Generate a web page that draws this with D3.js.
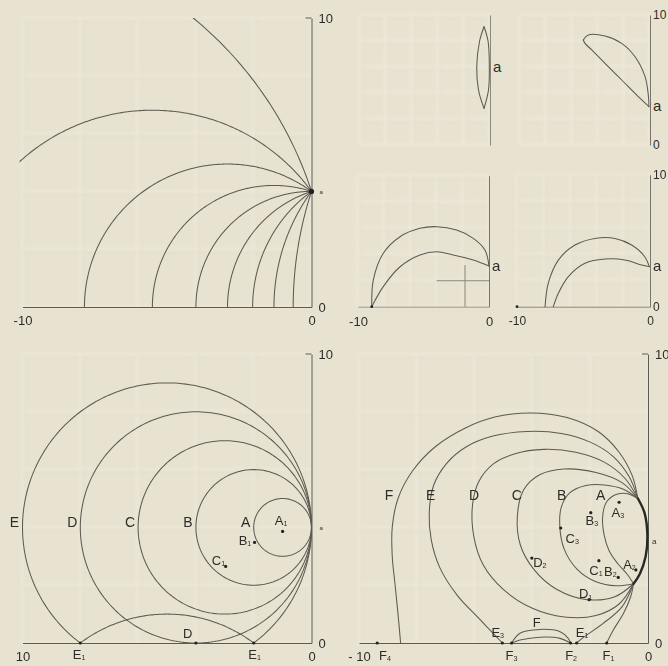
<!DOCTYPE html>
<html>
<head>
<meta charset="utf-8">
<script src="https://cdn.jsdelivr.net/npm/d3@7"></script>
<style>
  html, body { margin: 0; padding: 0; background: #e8e3d1; }
  svg { display: block; }
  text { font-family: "Liberation Sans", "DejaVu Sans", sans-serif; fill: #2e2c28; }
</style>
</head>
<body>
<svg id="fig" width="668" height="666"></svg>
<script>
// ---------------- data ----------------
// Panel I: circles through a = (0,4) with centres on the x axis
const fanPoint = [0, 4];
const fanCenters = [-12.31, -5.51, -2.91, -1.30, 0, 1.30, 2.91, 5.51, 12.31];

// Panel III: circles tangent to the y axis at a, centres (-r, 4)
const tangentRadii = [1, 2, 3, 4, 5];
const tangentNames = ["A", "B", "C", "D", "E"];
const mirroredRadius = 5;           // part of circle E below the axis, folded up
const panel3Points = [
  { name: "A", sub: "1", x: -1.00, y: 3.86, lx: -1.05, ly: 4.25 },
  { name: "B", sub: "1", x: -1.97, y: 3.48, lx: -2.30, ly: 3.56 },
  { name: "C", sub: "1", x: -2.97, y: 2.65, lx: -3.22, ly: 2.86 },
  { name: "D", sub: "",  x: -4.00, y: 0.00, lx: -4.28, ly: 0.33 },
  { name: "E", sub: "1", x: -8.00, y: 0.00, lx: -8.04, ly: -0.40 },
  { name: "E", sub: "1", x: -2.00, y: 0.00, lx: -1.97, ly: -0.40 }
];

// Panel IV: closed curves A-D and open curves E, F through the same pair of points
const loopRightSide = [[-0.35, 5.0], [-0.12, 4.5], [-0.02, 3.7], [-0.08, 3.0], [-0.28, 2.4], [-0.5, 2.05]];
const loopA = [[-0.35, 5.0], [-0.75, 5.17], [-1.15, 5.12], [-1.45, 4.85], [-1.57, 4.35], [-1.52, 3.75], [-1.35, 3.2], [-1.05, 2.75], [-0.72, 2.38], [-0.5, 2.05]];
const loopB = [[-0.35, 5.0], [-0.85, 5.32], [-1.5, 5.47], [-2.15, 5.45], [-2.7, 5.2], [-3.0, 4.7], [-3.05, 4.0], [-2.9, 3.25], [-2.45, 2.55], [-1.8, 2.12], [-1.1, 1.98], [-0.5, 2.05]];
const loopC = [[-0.35, 5.0], [-0.9, 5.55], [-1.8, 5.9], [-2.9, 6.02], [-3.75, 5.82], [-4.3, 5.3], [-4.52, 4.4], [-4.42, 3.4], [-3.95, 2.55], [-3.15, 1.85], [-2.1, 1.5], [-1.15, 1.6], [-0.5, 2.05]];
const loopD = [[-0.35, 5.0], [-0.8, 5.7], [-1.5, 6.25], [-2.5, 6.6], [-3.6, 6.7], [-4.6, 6.55], [-5.35, 6.2], [-5.85, 5.6], [-6.07, 4.8], [-6.03, 3.7], [-5.7, 2.7], [-5.0, 1.85], [-4.0, 1.2], [-2.9, 0.9], [-1.8, 0.95], [-1.0, 1.35], [-0.5, 2.05]];
const curveE = [[-0.35, 5.0], [-0.65, 5.75], [-1.2, 6.45], [-2.0, 6.95], [-3.0, 7.25], [-4.18, 7.32], [-5.4, 7.15], [-6.3, 6.78], [-6.98, 6.2], [-7.42, 5.45], [-7.57, 4.5], [-7.5, 3.57], [-7.2, 2.6], [-6.6, 1.65], [-5.85, 0.85], [-5.04, 0]];
const curveF = [[-0.35, 5.0], [-0.55, 5.8], [-1.0, 6.6], [-1.7, 7.3], [-2.8, 7.8], [-4.06, 7.96], [-5.3, 7.82], [-6.3, 7.45], [-7.35, 6.8], [-8.15, 5.95], [-8.65, 5.0], [-8.85, 4.0], [-8.85, 3.0], [-8.75, 2.0], [-8.65, 1.0], [-8.56, 0]];
const toE1 = [[-0.5, 2.05], [-0.9, 1.25], [-1.55, 0.68], [-2.2, 0.22], [-2.47, 0]];
const toF1 = [[-0.5, 2.05], [-0.6, 1.6], [-0.85, 1.02], [-1.2, 0.45], [-1.43, 0]];
const arcFUpper = [[-4.72, 0], [-4.43, 0.34], [-3.74, 0.47], [-3.04, 0.39], [-2.76, 0.16], [-2.68, 0]];
const arcFLower = [[-4.72, 0], [-4.43, 0.1], [-3.74, 0.2], [-3.04, 0.16], [-2.68, 0]];
const loopNames = ["F", "E", "D", "C", "B", "A"];
const loopNameX = [-8.96, -7.52, -6.02, -4.54, -2.99, -1.64];
const loopNameY = 5.11;
const panel4Points = [
  { name: "A", sub: "3", x: -1.00, y: 4.87, lx: -1.04, ly: 4.53 },
  { name: "B", sub: "3", x: -1.98, y: 4.51, lx: -1.94, ly: 4.24 },
  { name: "C", sub: "3", x: -3.02, y: 3.98, lx: -2.62, ly: 3.62 },
  { name: "D", sub: "2", x: -4.02, y: 2.94, lx: -3.74, ly: 2.80 },
  { name: "C", sub: "1", x: -1.70, y: 2.85, lx: -1.80, ly: 2.50 },
  { name: "B", sub: "2", x: -1.03, y: 2.27, lx: -1.30, ly: 2.47 },
  { name: "A", sub: "2", x: -0.42, y: 2.53, lx: -0.64, ly: 2.72 },
  { name: "D", sub: "1", x: -2.04, y: 1.50, lx: -2.16, ly: 1.70 },
  { name: "E", sub: "3", x: -5.04, y: 0, lx: -5.20, ly: 0.36 },
  { name: "F", sub: "3", x: -4.72, y: 0, lx: -4.72, ly: -0.44 },
  { name: "F", sub: "2", x: -2.68, y: 0, lx: -2.66, ly: -0.44 },
  { name: "E", sub: "1", x: -2.47, y: 0, lx: -2.28, ly: 0.38 },
  { name: "F", sub: "1", x: -1.43, y: 0, lx: -1.37, ly: -0.42 },
  { name: "F", sub: "4", x: -9.37, y: 0, lx: -9.10, ly: -0.42 }
];
const arcFName = { name: "F", x: -3.85, y: 0.72 };

// Four small panels
const lensLeft = [[-0.46, 9.1], [-0.8, 8.0], [-1.02, 6.0], [-0.88, 4.2], [-0.46, 2.82]];
const lensRight = [[-0.46, 9.1], [-0.15, 8.0], [-0.05, 6.0], [-0.12, 4.2], [-0.46, 2.82]];
const lensA = 6.0;
const dropUpper = [[-0.08, 2.95], [-0.13, 3.85], [-0.38, 5.26], [-1.15, 6.79], [-2.18, 7.82], [-3.46, 8.38], [-4.75, 8.46], [-5.13, 8.08]];
const dropLower = [[-0.08, 2.95], [-0.9, 3.72], [-2.18, 5.0], [-3.46, 6.28], [-4.48, 7.31], [-5.0, 7.82], [-5.13, 8.08]];
const dropA = 2.95;
const hornUpper1 = [[-8.95, 0], [-8.83, 2.04], [-8.07, 4.08], [-6.79, 5.34], [-5.27, 5.98], [-3.99, 6.11], [-2.47, 5.85], [-1.2, 5.22], [-0.31, 4.33], [0, 3.1]];
const hornLower1 = [[-8.95, 0], [-8.07, 1.53], [-6.79, 3.05], [-5.27, 3.95], [-3.99, 4.20], [-2.73, 3.95], [-1.2, 3.56], [0, 3.1]];
const hornCross = { vx: -1.83, vTop: 3.18, hy: 1.98, hLeft: -4.0 };
const hornUpper2 = [[-7.89, 0], [-7.65, 1.77], [-6.89, 3.53], [-5.64, 4.67], [-4.14, 5.17], [-2.63, 5.17], [-1.38, 4.67], [-0.38, 3.77], [-0.05, 3.03]];
const hornLower2 = [[-7.27, 0], [-6.89, 1.02], [-6.14, 2.28], [-4.89, 3.29], [-3.38, 3.61], [-1.88, 3.54], [-0.62, 3.16], [-0.05, 3.03]];
const hornA = 3.05;

const gridX = [-10, -8, -6, -4, -2, 0];
const gridY = [0, 2, 4, 6, 8, 10];

// ---------------- drawing ----------------
const svg = d3.select("#fig");
const INK = "#5d5a52";

const defs = svg.append("defs");
defs.append("filter").attr("id", "soft").append("feGaussianBlur").attr("stdDeviation", 1.6);

function panel(px0, px1, py0, py1) {
  const x = d3.scaleLinear().domain([-10, 0]).range([px0, px1]);
  const y = d3.scaleLinear().domain([0, 10]).range([py0, py1]);
  return { x, y, g: svg.append("g") };
}

const P1 = panel(22.5, 311.5, 307, 18);
const P3 = panel(22.5, 311.5, 643, 354);
const P4 = panel(359, 648, 643, 354);
const S1 = panel(360, 490, 145, 15);
const S2 = panel(520, 650, 145, 15);
const S3 = panel(358, 489, 306.7, 175.7);
const S4 = panel(517, 650, 306.7, 174.7);

// faint ruling of the paper
function paper(P) {
  const g = P.g.append("g").attr("filter", "url(#soft)");
  g.selectAll("line.v").data(gridX).join("line")
    .attr("x1", d => P.x(d)).attr("x2", d => P.x(d))
    .attr("y1", P.y(10)).attr("y2", P.y(0))
    .attr("stroke", "#f1ecdd").attr("stroke-width", 3).attr("opacity", 0.55);
  g.selectAll("line.h").data(gridY).join("line")
    .attr("y1", d => P.y(d)).attr("y2", d => P.y(d))
    .attr("x1", P.x(-10)).attr("x2", P.x(0))
    .attr("stroke", "#f1ecdd").attr("stroke-width", 3).attr("opacity", 0.55);
  g.selectAll("line.vd").data(gridX).join("line")
    .attr("x1", d => P.x(d) + 2.5).attr("x2", d => P.x(d) + 2.5)
    .attr("y1", P.y(10)).attr("y2", P.y(0))
    .attr("stroke", "#d6d0bc").attr("stroke-width", 1.2).attr("opacity", 0.35);
  g.selectAll("line.hd").data(gridY).join("line")
    .attr("y1", d => P.y(d) + 2.5).attr("y2", d => P.y(d) + 2.5)
    .attr("x1", P.x(-10)).attr("x2", P.x(0))
    .attr("stroke", "#d6d0bc").attr("stroke-width", 1.2).attr("opacity", 0.35);
}
[P1, P3, P4, S1, S2, S3, S4].forEach(paper);

function clipFor(P, id) {
  defs.append("clipPath").attr("id", id).append("rect")
    .attr("x", P.x(-10) - 3).attr("y", P.y(10))
    .attr("width", P.x(0) - P.x(-10) + 6).attr("height", P.y(0) - P.y(10));
  return "url(#" + id + ")";
}

// axes built from d3 axis generators (bare lines with end labels)
function axes(P, opt) {
  const fs = opt.fs || 13;
  if (opt.bottom) {
    const ax = d3.axisBottom(P.x).tickValues([-10, 0]).tickSize(0).tickSizeOuter(0)
      .tickPadding(opt.padB || 9).tickFormat((d, i) => opt.bottom[i]);
    const g = P.g.append("g").attr("transform", `translate(0,${P.y(0)})`).call(ax);
    g.select(".domain").attr("stroke", opt.bottomColor || INK).attr("stroke-width", 1);
    g.selectAll("text").style("font-size", fs + "px").style("font-family", "Liberation Sans, sans-serif").attr("fill", "#2e2c28");
  }
  if (opt.right) {
    const ay = d3.axisRight(P.y).tickValues([0, 10]).tickSize(0).tickSizeOuter(0)
      .tickPadding(opt.padR || 7).tickFormat((d, i) => opt.right[i]);
    const g = P.g.append("g").attr("transform", `translate(${P.x(0)},0)`).call(ay);
    g.select(".domain").attr("stroke", opt.rightColor || INK).attr("stroke-width", 1);
    g.selectAll("text").style("font-size", fs + "px").style("font-family", "Liberation Sans, sans-serif").attr("fill", "#2e2c28");
  }
  if (opt.topTick) {
    P.g.append("line").attr("x1", P.x(0) - 6).attr("x2", P.x(0))
      .attr("y1", P.y(10)).attr("y2", P.y(10)).attr("stroke", INK);
  }
}

function label(g, x, y, name, sub, size) {
  const t = g.append("text").attr("x", x).attr("y", y)
    .attr("text-anchor", "middle").attr("dominant-baseline", "central")
    .style("font-size", size + "px").text(name);
  if (sub) t.append("tspan").attr("dy", size * 0.28).style("font-size", (size * 0.55) + "px").text(sub);
  return t;
}

function dot(P, x, y, r) {
  P.g.append("circle").attr("cx", P.x(x)).attr("cy", P.y(y)).attr("r", r || 1.6).attr("fill", "#222");
}

function circlePath(P, cx, cy, r, a0, a1) {
  const n = 240;
  const pts = d3.range(n + 1).map(i => {
    const t = a0 + (a1 - a0) * i / n;
    return [P.x(cx + r * Math.cos(t)), P.y(cy + r * Math.sin(t))];
  });
  return d3.line()(pts);
}

const smooth = P => d3.line().x(d => P.x(d[0])).y(d => P.y(d[1])).curve(d3.curveCatmullRom.alpha(0.5));

function stroke(sel, w) {
  return sel.attr("fill", "none").attr("stroke", INK).attr("stroke-width", w || 1.05)
    .attr("stroke-linejoin", "round").attr("stroke-linecap", "round");
}

// ---- Panel I ----
{
  const P = P1;
  axes(P, { bottom: ["-10", "0"], right: ["0", "10"], topTick: true });
  const clip = clipFor(P, "c1");
  const g = P.g.append("g").attr("clip-path", clip);
  fanCenters.forEach(c => {
    const r = Math.hypot(c - fanPoint[0], fanPoint[1]);
    const a0 = Math.atan2(fanPoint[1], fanPoint[0] - c);
    stroke(g.append("path").attr("d", circlePath(P, c, 0, r, a0, Math.PI)));
  });
  dot(P, fanPoint[0], fanPoint[1], 2.6);
  P.g.append("text").attr("x", P.x(0) + 8).attr("y", P.y(fanPoint[1]) + 3)
    .style("font-size", "6px").text("a");
}

// ---- Panel III ----
{
  const P = P3;
  axes(P, { bottom: ["10", "0"], right: ["0", "10"], topTick: true });
  const clip = clipFor(P, "c3");
  const g = P.g.append("g").attr("clip-path", clip);
  tangentRadii.forEach(r => {
    stroke(g.append("path").attr("d", circlePath(P, -r, 4, r, 0, 2 * Math.PI)));
  });
  stroke(g.append("path").attr("d", circlePath(P, -mirroredRadius, -4, mirroredRadius, 0, Math.PI)));
  tangentRadii.forEach((r, i) => label(P.g, P.x(-2 * r) - 8, P.y(4.2), tangentNames[i], "", 14));
  panel3Points.forEach(p => {
    dot(P, p.x, p.y);
    label(P.g, P.x(p.lx), P.y(p.ly), p.name, p.sub, 13);
  });
  P.g.append("text").attr("x", P.x(0) + 8).attr("y", P.y(4) + 3).style("font-size", "6px").text("a");
}

// ---- Panel IV ----
{
  const P = P4;
  axes(P, { bottom: ["- 10", "0"], right: ["0", "10"], topTick: true });
  const line = smooth(P);
  [loopA, loopB, loopC, loopD, curveE, curveF, toE1, toF1, arcFUpper, arcFLower]
    .forEach(d => stroke(P.g.append("path").attr("d", line(d))));
  stroke(P.g.append("path").attr("d", line(loopRightSide)), 2.4).attr("stroke", "#2a2824");
  loopNames.forEach((n, i) => label(P.g, P.x(loopNameX[i]), P.y(loopNameY), n, "", 14));
  panel4Points.forEach(p => {
    dot(P, p.x, p.y);
    label(P.g, P.x(p.lx), P.y(p.ly), p.name, p.sub, 13);
  });
  label(P.g, P.x(arcFName.x), P.y(arcFName.y), arcFName.name, "", 13);
  P.g.append("text").attr("x", P.x(0) + 4).attr("y", P.y(3.52) + 3).style("font-size", "8px").text("a");
}

// ---- small panels ----
function smallA(P, y) {
  P.g.append("text").attr("x", P.x(0) + 3).attr("y", P.y(y) + 4.5).style("font-size", "15px").text("a");
}
{
  const P = S1;
  axes(P, { right: ["", ""], rightColor: "#8a867c" });
  const line = smooth(P);
  stroke(P.g.append("path").attr("d", line(lensLeft)));
  stroke(P.g.append("path").attr("d", line(lensRight)));
  smallA(P, lensA);
}
{
  const P = S2;
  axes(P, { right: ["0", "10"], rightColor: "#77736a", fs: 12, padR: 3 });
  const line = smooth(P);
  stroke(P.g.append("path").attr("d", line(dropUpper)));
  stroke(P.g.append("path").attr("d", line(dropLower)));
  smallA(P, dropA);
}
{
  const P = S3;
  axes(P, { bottom: ["-10", "0"], bottomColor: "#9a958a", rightColor: "#77736a", right: ["", ""], padB: 10 });
  const line = smooth(P);
  stroke(P.g.append("path").attr("d", line(hornUpper1)));
  stroke(P.g.append("path").attr("d", line(hornLower1)));
  P.g.append("line").attr("x1", P.x(hornCross.vx)).attr("x2", P.x(hornCross.vx))
    .attr("y1", P.y(0)).attr("y2", P.y(hornCross.vTop)).attr("stroke", "#8a867c");
  P.g.append("line").attr("x1", P.x(hornCross.hLeft)).attr("x2", P.x(0))
    .attr("y1", P.y(hornCross.hy)).attr("y2", P.y(hornCross.hy)).attr("stroke", "#8a867c");
  dot(S3, -8.95, 0, 1.4);
  smallA(P, hornA);
}
{
  const P = S4;
  axes(P, { bottom: ["-10", "0"], bottomColor: "#8a867c", right: ["0", "10"], rightColor: "#77736a", padB: 10, fs: 12, padR: 3 });
  const line = smooth(P);
  stroke(P.g.append("path").attr("d", line(hornUpper2)));
  stroke(P.g.append("path").attr("d", line(hornLower2)));
  dot(S4, -10, 0, 1.4);
  smallA(P, hornA);
}
</script>
</body>
</html>
